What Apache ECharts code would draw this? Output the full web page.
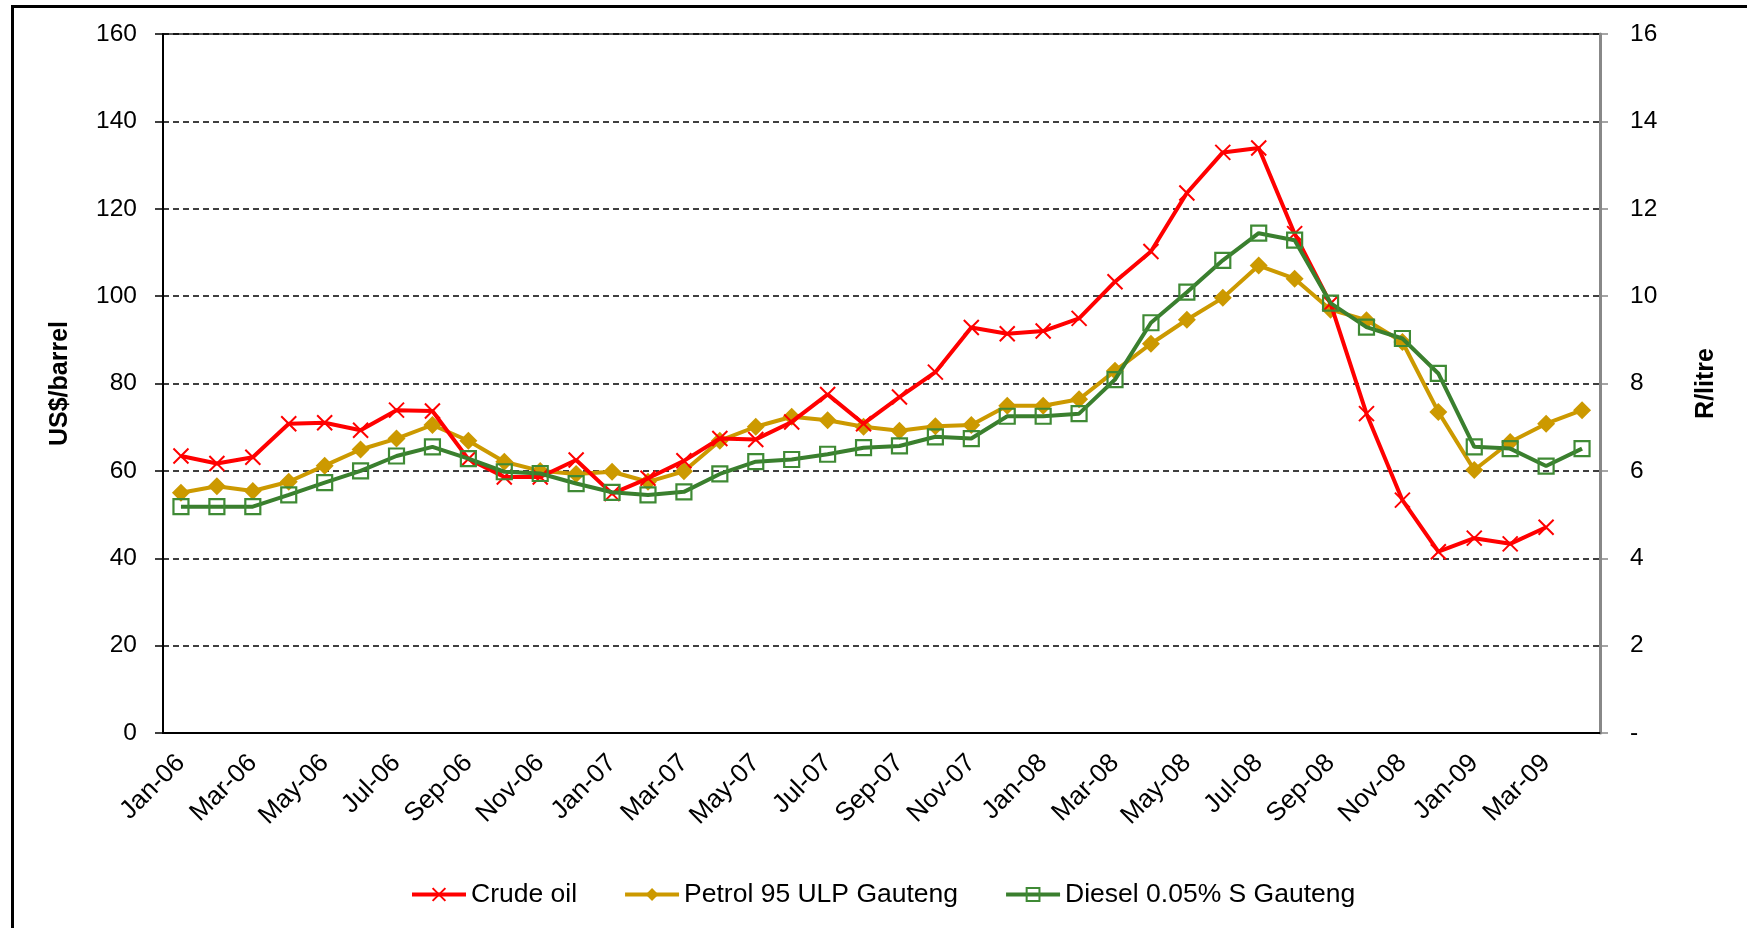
<!DOCTYPE html>
<html>
<head>
<meta charset="utf-8">
<title>Crude oil and fuel prices</title>
<script src="https://cdn.jsdelivr.net/npm/echarts@6/dist/echarts.min.js"></script>
<style>
    html, body { margin: 0; padding: 0; background: #fff; }
    #chart { width: 1747px; height: 928px; }
</style>
</head>
<body>
<div id="chart"></div>
<script>
// month labels, Jan-06 .. Apr-09
var months = ["Jan-06","Feb-06","Mar-06","Apr-06","May-06","Jun-06","Jul-06","Aug-06","Sep-06","Oct-06","Nov-06","Dec-06",
    "Jan-07","Feb-07","Mar-07","Apr-07","May-07","Jun-07","Jul-07","Aug-07","Sep-07","Oct-07","Nov-07","Dec-07",
    "Jan-08","Feb-08","Mar-08","Apr-08","May-08","Jun-08","Jul-08","Aug-08","Sep-08","Oct-08","Nov-08","Dec-08",
    "Jan-09","Feb-09","Mar-09","Apr-09"];

// US$/barrel (left axis)
var crudeOil = [63.4, 61.7, 63.1, 70.8, 71.0, 69.3, 73.9, 73.7, 62.7, 58.6, 58.6, 62.5,
    54.8, 58.3, 62.3, 67.4, 67.2, 71.2, 77.5, 70.8, 76.9, 82.6, 92.8, 91.4,
    92.0, 94.9, 103.3, 110.2, 123.6, 132.9, 133.9, 114.3, 98.3, 73.1, 53.3, 41.5,
    44.6, 43.3, 47.1, null];

// R/litre (right axis)
var petrol95 = [5.50, 5.65, 5.54, 5.75, 6.12, 6.49, 6.74, 7.05, 6.69, 6.21, 6.00, 5.93,
    5.98, 5.75, 5.99, 6.69, 7.01, 7.24, 7.16, 7.01, 6.92, 7.02, 7.05, 7.49,
    7.49, 7.64, 8.29, 8.91, 9.46, 9.96, 10.70, 10.40, 9.69, 9.45, 8.95, 7.35,
    6.02, 6.66, 7.08, 7.39];

var diesel005 = [5.18, 5.18, 5.18, 5.45, 5.73, 6.00, 6.34, 6.55, 6.28, 5.98, 5.94, 5.71,
    5.51, 5.45, 5.52, 5.93, 6.21, 6.26, 6.38, 6.53, 6.57, 6.78, 6.74, 7.25,
    7.25, 7.31, 8.09, 9.39, 10.09, 10.82, 11.44, 11.28, 9.84, 9.29, 9.03, 8.23,
    6.55, 6.51, 6.11, 6.51];

var FONT = "Liberation Sans, Arial, sans-serif";
var crossSymbol = "path://M0,0 L10,10 M10,0 L0,10";

function initChart() {
    var chart = echarts.init(document.getElementById("chart"));

    var option = {
        backgroundColor: "#fff",
        animation: false,
        textStyle: { fontFamily: FONT, color: "#000" },
        graphic: [{
            // outer chart frame (runs off right and bottom)
            type: "rect",
            left: 10, top: 4,
            shape: { width: 1800, height: 1000 },
            style: { fill: "none", stroke: "#000", lineWidth: 3 },
            silent: true
        }],
        grid: {
            left: 163, right: 147, top: 34, bottom: 195,
            show: true, borderColor: "#222", borderWidth: 1.5
        },
        legend: {
            left: 405, top: 876,
            itemWidth: 54, itemHeight: 16, itemGap: 46,
            lineStyle: { width: 4 },
            textStyle: { fontFamily: FONT, fontSize: 26.5, color: "#000" },
            data: ["Crude oil", "Petrol 95 ULP Gauteng", "Diesel 0.05% S Gauteng"]
        },
        xAxis: {
            type: "category",
            data: months,
            boundaryGap: true,
            axisLine: { lineStyle: { color: "#000", width: 2 } },
            axisTick: { interval: 1, length: 8, lineStyle: { color: "#000", width: 1.5 } },
            axisLabel: {
                interval: 1, rotate: 45, margin: 26,
                fontFamily: FONT, fontSize: 26, color: "#000"
            },
            splitLine: { show: false }
        },
        yAxis: [{
            type: "value",
            min: 0, max: 160, interval: 20,
            name: "US$/barrel",
            nameLocation: "middle",
            nameRotate: 90,
            nameGap: 90,
            nameTextStyle: { fontFamily: FONT, fontSize: 25, fontWeight: "bold", color: "#000" },
            axisLine: { show: true, lineStyle: { color: "#000", width: 2 } },
            axisTick: { show: true, length: 8, lineStyle: { color: "#000", width: 1.5 } },
            axisLabel: { margin: 26, fontFamily: FONT, fontSize: 24.5, color: "#000" },
            splitLine: { show: true, lineStyle: { color: "#000", width: 1.5, type: [6, 4] } }
        }, {
            type: "value",
            min: 0, max: 16, interval: 2,
            position: "right",
            name: "R/litre",
            nameLocation: "middle",
            nameRotate: 90,
            nameGap: 94,
            nameTextStyle: { fontFamily: FONT, fontSize: 25, fontWeight: "bold", color: "#000" },
            axisLine: { show: true, lineStyle: { color: "#888", width: 3 } },
            axisTick: { show: true, length: 8, lineStyle: { color: "#888", width: 1.5 } },
            axisLabel: {
                margin: 30, fontFamily: FONT, fontSize: 24.5, color: "#000",
                formatter: function (v) { return v === 0 ? "-" : String(v); }
            },
            splitLine: { show: false }
        }],
        series: [{
            name: "Crude oil",
            type: "line",
            yAxisIndex: 0,
            data: crudeOil,
            symbol: crossSymbol,
            symbolSize: 15,
            showAllSymbol: true,
            lineStyle: { color: "#ff0000", width: 4 },
            itemStyle: { color: "#ff0000", borderColor: "#ff0000", borderWidth: 2 },
            z: 4
        }, {
            name: "Petrol 95 ULP Gauteng",
            type: "line",
            yAxisIndex: 1,
            data: petrol95,
            symbol: "diamond",
            symbolSize: 18,
            showAllSymbol: true,
            lineStyle: { color: "#cc9900", width: 4 },
            itemStyle: { color: "#cc9900" },
            z: 3
        }, {
            name: "Diesel 0.05% S Gauteng",
            type: "line",
            yAxisIndex: 1,
            data: diesel005,
            symbol: "rect",
            symbolSize: 15,
            showAllSymbol: true,
            lineStyle: { color: "#3a7f2e", width: 4 },
            itemStyle: { color: "rgba(255,255,255,0)", borderColor: "#3f8a35", borderWidth: 2.2 },
            z: 5
        }]
    };

    chart.setOption(option);
    window.priceChart = chart;
}

initChart();
</script>
</body>
</html>
